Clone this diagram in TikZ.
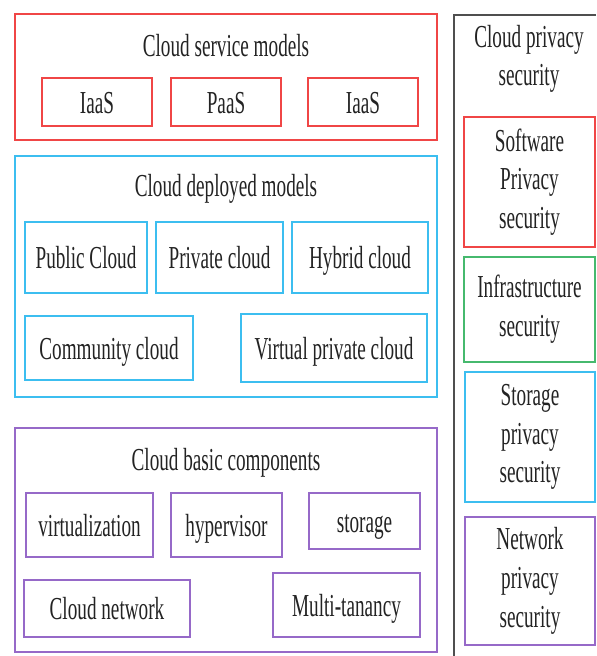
\documentclass[tikz,border=0pt]{standalone}
\usepackage{fontspec}
\setmainfont{Liberation Serif}[FakeStretch=0.6]
\definecolor{redline}{RGB}{240,70,70}
\definecolor{blueline}{RGB}{60,190,240}
\definecolor{greenline}{RGB}{70,185,110}
\definecolor{purpleline}{RGB}{150,105,200}
\definecolor{inkgray}{RGB}{35,35,35}
% box from (x1,y1) to (x2,y2) in pixels
\newcommand{\panel}[7]{\node[panel,#2,minimum width={(#5-#3)*0.75pt},minimum height={(#6-#4)*0.75pt}] (#1) at ({(#3+#5)/2},{(#4+#6)/2}) {#7};}
\begin{document}
\begin{tikzpicture}[x=0.75pt,y=-0.75pt,
  panel/.style={line width=1.3pt,inner sep=0pt,align=center,text=inkgray,font=\fontsize{24}{29}\selectfont},
  oneline/.style={text height=16.8pt,text depth=0pt},
  heading/.style={anchor=base,align=center,text=inkgray,font=\fontsize{24}{29}\selectfont}]
\useasboundingbox (0,0) rectangle (596,656);
% service models
\panel{service}{draw=redline}{15}{14}{437}{140}{}
\node[heading] (servicetitle) at (226,57) {Cloud service models};
\panel{iaasa}{draw=redline,oneline}{42}{78}{152}{126}{IaaS}
\panel{paas}{draw=redline,oneline}{171}{78}{281}{126}{PaaS}
\panel{iaasb}{draw=redline,oneline}{308}{78}{418}{126}{IaaS}
% deployed models
\panel{deployed}{draw=blueline}{15}{156}{437}{397}{}
\node[heading] (deployedtitle) at (226,196) {Cloud deployed models};
\panel{public}{draw=blueline,oneline}{25}{222}{147}{293}{Public Cloud}
\panel{private}{draw=blueline,oneline}{156}{222}{283}{293}{Private cloud}
\panel{hybrid}{draw=blueline,oneline}{292}{222}{428}{293}{Hybrid cloud}
\panel{community}{draw=blueline,oneline}{25}{316}{193}{380}{Community cloud}
\panel{virtual}{draw=blueline,oneline}{241}{314}{427}{382}{Virtual private cloud}
% basic components
\panel{basic}{draw=purpleline}{15}{428}{437}{652}{}
\node[heading] (basictitle) at (226,470) {Cloud basic components};
\panel{virtualization}{draw=purpleline,oneline}{26}{493}{153}{557}{virtualization}
\panel{hypervisor}{draw=purpleline,oneline}{171}{493}{282}{557}{hypervisor}
\panel{storage}{draw=purpleline,oneline}{309}{493}{420}{549}{storage}
\panel{network}{draw=purpleline,oneline}{24}{580}{190}{637}{Cloud network}
\panel{multi}{draw=purpleline,oneline}{273}{573}{420}{637}{Multi-tanancy}
% privacy column
\draw[line width=1.3pt,color=inkgray!80] (596,15) -| (454,656);
\node[heading] (privacytitle) at (529,86) {Cloud privacy\\security};
\panel{software}{draw=redline}{464}{117}{595}{247}{Software\\Privacy\\security}
\panel{infra}{draw=greenline}{464}{257}{595}{362}{Infrastructure\\security}
\panel{storagesec}{draw=blueline}{465}{372}{595}{502}{Storage\\privacy\\security}
\panel{networksec}{draw=purpleline}{465}{517}{595}{645}{Network\\privacy\\security}
\end{tikzpicture}
\end{document}
